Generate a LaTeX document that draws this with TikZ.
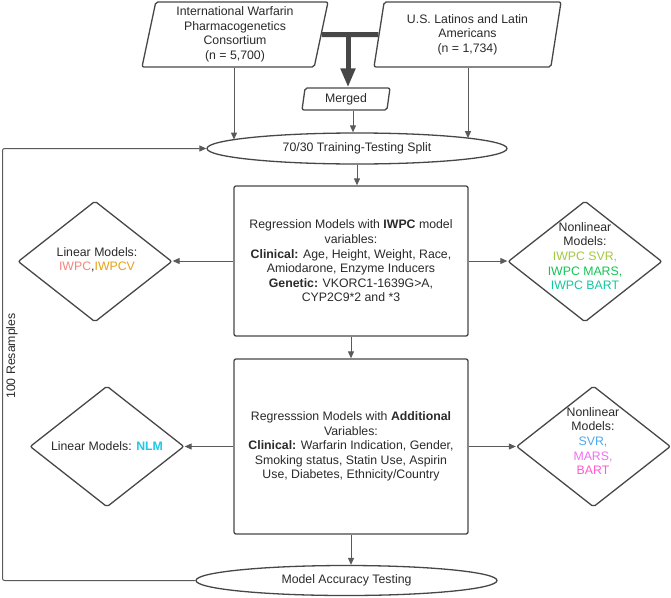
\documentclass[tikz,border=0pt]{standalone}
\usepackage{fontspec}
\setmainfont{Liberation Sans}
\usetikzlibrary{shapes.geometric,arrows.meta}
\definecolor{ln}{HTML}{474747}
\definecolor{ln2}{HTML}{5A5A5A}
\definecolor{txt}{HTML}{2A2A2A}
\definecolor{cIWPC}{HTML}{F4857A}
\definecolor{cIWPCV}{HTML}{E8A010}
\definecolor{cISVR}{HTML}{A3C940}
\definecolor{cIMARS}{HTML}{12C454}
\definecolor{cIBART}{HTML}{10C8A0}
\definecolor{cNLM}{HTML}{1EC8E6}
\definecolor{cSVR}{HTML}{4DA8F0}
\definecolor{cMARS}{HTML}{F070F0}
\definecolor{cBART}{HTML}{FF5ACD}
\begin{document}
\begin{tikzpicture}[x=1pt,y=-1pt,
  font=\fontsize{12.3}{14.6}\selectfont, text=txt,
  shp/.style={draw=ln, line width=1.3pt, fill=white, rounded corners=2pt},
  para/.style={shp, trapezium, trapezium stretches body, inner sep=0pt, align=center},
  term/.style={shp, ellipse, inner sep=0pt},
  boxnode/.style={shp, rectangle, inner sep=0pt, align=center},
  dia/.style={shp, diamond, inner sep=0pt, minimum width=154pt, minimum height=121pt},
  lbl/.style={inner sep=0pt, align=center},
  arr/.style={draw=ln2, line width=1pt, -{Triangle[length=7pt,width=6pt]}},
  bigline/.style={draw=ln, line width=5pt},
  bigarr/.style={draw=ln, line width=5pt, -{Triangle[length=19pt,width=14pt]}}
]
\useasboundingbox (0,0) rectangle (671,597);

% top inputs
\node[para, trapezium left angle=76, trapezium right angle=104,
      minimum width=186pt, minimum height=65pt] (iwpc) at (235,34.5)
  {International Warfarin\\Pharmacogenetics\\Consortium\\(n = 5,700)};
\node[para, trapezium left angle=76, trapezium right angle=104,
      minimum width=187pt, minimum height=65pt] (lat) at (467.5,34.5)
  {U.S. Latinos and Latin\\Americans\\(n = 1,734)};
\node[para, trapezium left angle=75, trapezium right angle=105,
      minimum width=88pt, minimum height=22pt] (merged) at (346,99) {Merged};

% terminators
\node[term, minimum width=300pt, minimum height=31pt] (split) at (357,148.5)
  {70/30 Training-Testing Split};
\node[term, minimum width=301pt, minimum height=30pt] (acc) at (346.5,580.5)
  {Model Accuracy Testing};

% regression boxes
\node[boxnode, minimum width=234pt, minimum height=150pt] (box1) at (351,261)
  {Regression Models with \textbf{IWPC} model\\variables:\\
   \textbf{Clinical:} Age, Height, Weight, Race,\\Amiodarone, Enzyme Inducers\\
   \textbf{Genetic:} VKORC1-1639G>A,\\CYP2C9*2 and *3};
\node[boxnode, minimum width=234pt, minimum height=175pt] (box2) at (351,446.5)
  {Regresssion Models with \textbf{Additional}\\Variables:\\
   \textbf{Clinical:} Warfarin Indication, Gender,\\Smoking status, Statin Use, Aspirin\\
   Use, Diabetes, Ethnicity/Country};

% diamonds
\node[dia] (lin1) at (95,261.5) {};
\node[lbl] (lin1t) at (97,260) {Linear Models:\\\textcolor{cIWPC}{IWPC},\textcolor{cIWPCV}{IWPCV}};
\node[dia] (nl1) at (585,261.5) {};
\node[lbl] (nl1t) at (585,256) {Nonlinear\\Models:\\\textcolor{cISVR}{IWPC SVR,}\\
  \textcolor{cIMARS}{IWPC MARS,}\\\textcolor{cIBART}{IWPC BART}};
\node[dia] (lin2) at (107,446.5) {};
\node[lbl] (lin2t) at (107,446) {Linear Models: \textcolor{cNLM}{\textbf{NLM}}};
\node[dia] (nl2) at (593.5,446.5) {};
\node[lbl] (nl2t) at (593,441) {Nonlinear\\Models:\\\textcolor{cSVR}{SVR,}\\
  \textcolor{cMARS}{MARS,}\\\textcolor{cBART}{BART}};

% loop label
\node[lbl, rotate=90] (res) at (12,356) {100 Resamples};

% helper coordinates
\coordinate (xa) at (234,0);
\coordinate (xb) at (468,0);
\coordinate (xm) at (353,0);
\coordinate (sa) at ([shift={(-123,-8.9)}]split.center);
\coordinate (sb) at ([shift={(111,-10.4)}]split.center);
\coordinate (loop) at (2.5,300);
\coordinate (tj) at (iwpc.east -| merged.north);

% thick merge connector
\draw[bigline] (iwpc.east) -- (lat.west);
\draw[bigarr] ([xshift=2pt]tj) -- ([xshift=2pt]merged.north);

% arrows into split
\draw[arr] (iwpc.south -| xa) -- (sa);
\draw[arr] (lat.south -| xb) -- (sb);
\draw[arr] (merged.south -| xm) -- (split.north -| xm);

% main flow
\draw[arr] (split.south) -- (box1.north -| split.south);
\draw[arr] (box1.south) -- (box2.north);
\draw[arr] (box2.south) -- (box2.south |- acc.north);

% side arrows
\draw[arr] (box1.west) -- (box1.west -| lin1.east);
\draw[arr] (box1.east) -- (box1.east -| nl1.west);
\draw[arr] (box2.west) -- (lin2.east);
\draw[arr] (box2.east) -- (nl2.west);

% feedback loop
\draw[arr, rounded corners=2pt] (acc.west) -- (acc.west -| loop) |- (split.west);
\end{tikzpicture}
\end{document}
